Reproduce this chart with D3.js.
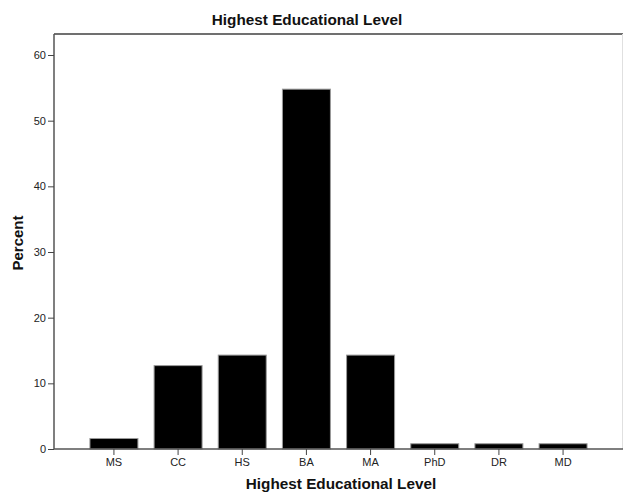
<!DOCTYPE html>
<html><head><meta charset="utf-8">
<script src="https://cdn.jsdelivr.net/npm/d3@7"></script>
<style>body{margin:0;background:#fff;} svg{display:block;}</style>
</head><body>
<script>
const categories = ["MS","CC","HS","BA","MA","PhD","DR","MD"];
const percents = [1.6,12.7,14.3,54.8,14.3,0.8,0.8,0.8];
const yTicks = [0,10,20,30,40,50,60];

const W = 623, H = 495;
const m = {left:54, right:0, top:34, bottom:46};
const svg = d3.select("body").append("svg").attr("width",W).attr("height",H);
const font = "'Liberation Sans', Arial, sans-serif";

const x = d3.scaleBand().domain(categories).range([m.left, W]).paddingInner(0.252).paddingOuter(0.56);
const y = d3.scaleLinear().domain([0, 63.2]).range([H - m.bottom, m.top]);

// frame top & right
svg.append("line").attr("x1",m.left).attr("x2",W).attr("y1",m.top).attr("y2",m.top)
  .attr("stroke","#707070").attr("stroke-width",2);
svg.append("line").attr("x1",W-0.5).attr("x2",W-0.5).attr("y1",m.top).attr("y2",H-m.bottom)
  .attr("stroke","#e0e0e0").attr("stroke-width",1);

// bars
svg.selectAll("rect.bar").data(categories).enter().append("rect")
  .attr("class","bar")
  .attr("x", d => x(d))
  .attr("width", x.bandwidth())
  .attr("y", (d,i) => y(percents[i]))
  .attr("height", (d,i) => y(0) - y(percents[i]))
  .attr("fill","#000").attr("stroke","#9a9a9a").attr("stroke-width",1);

// y axis
const ya = svg.append("g").attr("transform",`translate(${m.left},0)`)
  .call(d3.axisLeft(y).tickValues(yTicks).tickSize(6).tickPadding(2).tickFormat(d3.format("d")));
ya.select(".domain").attr("d", `M0,${y(0)}V${m.top}`).attr("stroke","#555").attr("stroke-width",1.5);
ya.selectAll(".tick line").attr("stroke","#444");
ya.selectAll(".tick text").attr("font-family",font).attr("font-size",11).attr("fill","#222");

// x axis
const xa = svg.append("g").attr("transform",`translate(0,${y(0)})`)
  .call(d3.axisBottom(x).tickSize(6).tickPadding(3));
xa.select(".domain").attr("d", `M${m.left},0H${W}`).attr("stroke","#555").attr("stroke-width",1.5);
xa.selectAll(".tick line").attr("stroke","#444");
xa.selectAll(".tick text").attr("font-family",font).attr("font-size",11).attr("fill","#222");

// titles
svg.append("text").attr("x",307).attr("y",25).attr("text-anchor","middle")
  .attr("font-family",font).attr("font-weight","bold").attr("font-size",15.3).attr("fill","#111")
  .text("Highest Educational Level");
svg.append("text").attr("x",341).attr("y",489).attr("text-anchor","middle")
  .attr("font-family",font).attr("font-weight","bold").attr("font-size",15.3).attr("fill","#111")
  .text("Highest Educational Level");
svg.append("text").attr("transform","translate(23,243) rotate(-90)").attr("text-anchor","middle")
  .attr("font-family",font).attr("font-weight","bold").attr("font-size",15).attr("fill","#111")
  .text("Percent");
</script>
</body></html>
